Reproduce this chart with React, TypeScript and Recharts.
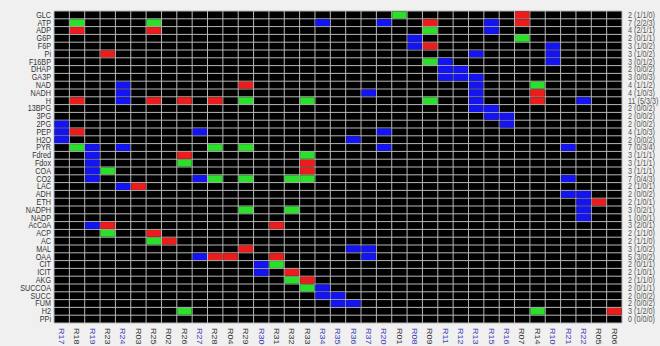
import { ScatterChart, Scatter, XAxis, YAxis, CartesianGrid, ReferenceLine } from "recharts";

const metabolites = [
  "GLC", "ATP", "ADP", "G6P", "F6P", "Pi", "F16BP", "DHAP", "GA3P", "NAD",
  "NADH", "H", "13BPG", "3PG", "2PG", "PEP", "H2O", "PYR", "Fdred", "Fdox",
  "COA", "CO2", "LAC", "ADH", "ETH", "NADPH", "NADP", "AcCoA", "ACP", "AC",
  "MAL", "OAA", "CIT", "ICIT", "AKG", "SUCCOA", "SUCC", "FUM", "H2", "PPi",
];

const reactions = [
  "R17", "R18", "R19", "R23", "R24", "R03", "R25", "R02", "R26", "R27",
  "R28", "R04", "R29", "R30", "R31", "R32", "R33", "R34", "R35", "R36",
  "R37", "R20", "R01", "R08", "R09", "R11", "R12", "R13", "R15", "R16",
  "R07", "R14", "R10", "R21", "R22", "R05", "R06",
];

// red cells, one list per reaction (same order as reactions)
const consumed = [
  [], ["ADP", "H", "PEP"], [], ["Pi", "AcCoA"], [], ["LAC"], ["ADP", "H", "ACP"], ["AC"], ["H", "Fdred"], [],
  ["H", "OAA"], ["OAA"], ["NAD", "MAL"], [], ["AcCoA", "OAA"], ["ICIT"], ["Fdox", "COA", "AKG"], [], [], [],
  [], [], [], [], ["ATP", "F6P"], [], [], [], [], [],
  ["GLC", "ATP"], ["NADH", "H"], [], [], [], ["ETH"], ["H2"],
];

// green cells
const produced = [
  [], ["ATP", "PYR"], [], ["COA", "ACP"], [], [], ["ATP", "AC"], [], ["Fdox", "H2"], [],
  ["PYR", "CO2"], [], ["H", "PYR", "CO2", "NADPH"], [], ["CIT"], ["CO2", "NADPH", "AKG"], ["H", "Fdred", "CO2", "SUCCOA"], [], [], [],
  [], [], ["GLC"], [], ["ADP", "F16BP", "H"], [], [], [], [], [],
  ["G6P"], ["NAD", "H2"], [], [], [], [], [],
];

// blue cells
const reversible = [
  ["2PG", "PEP", "H2O"], [], ["PYR", "Fdred", "Fdox", "COA", "CO2", "AcCoA"], [], ["NAD", "NADH", "H", "PYR", "LAC"], [], [], [], [], ["PEP", "CO2", "OAA"],
  [], [], [], ["CIT", "ICIT"], [], [], [], ["ATP", "SUCCOA", "SUCC"], ["SUCC", "FUM"], ["H2O", "MAL", "FUM"],
  ["NADH", "MAL", "OAA"], ["ATP", "PEP", "PYR"], [], ["G6P", "F6P"], [], ["F16BP", "DHAP", "GA3P"], ["DHAP", "GA3P"], ["Pi", "GA3P", "NAD", "NADH", "H", "13BPG"], ["ATP", "ADP", "13BPG", "3PG"], ["3PG", "2PG"],
  [], [], ["F6P", "Pi", "F16BP"], ["PYR", "CO2", "ADH"], ["H", "ADH", "ETH", "NADPH", "NADP"], [], [],
];

const COLORS = { red: "#ec1c1c", green: "#2be02b", blue: "#1414f2" };

const WIDTH = 660;
const HEIGHT = 346;
const LEFT_W = 54;
const RIGHT_W = 38;
const TOP = 11;
const BOTTOM_H = 23;
const CELL_W = (WIDTH - LEFT_W - RIGHT_W) / reactions.length;
const CELL_H = (HEIGHT - TOP - BOTTOM_H) / metabolites.length;
const FONT = "'Liberation Sans', Arial, sans-serif";
const GRID = "#b8b8b8";

type Cell = { x: number; y: number; color: string };

const cells: Cell[] = [];
reactions.forEach((_, c) => {
  const add = (names: string[], color: string) =>
    names.forEach((m) => cells.push({ x: c + 0.5, y: metabolites.indexOf(m) + 0.5, color }));
  add(consumed[c], COLORS.red);
  add(produced[c], COLORS.green);
  add(reversible[c], COLORS.blue);
});

// per-metabolite totals: n (red/green/blue)
const rowSummary = metabolites.map((m) => {
  const r = consumed.filter((l) => l.includes(m)).length;
  const g = produced.filter((l) => l.includes(m)).length;
  const b = reversible.filter((l) => l.includes(m)).length;
  return `${r + g + b} (${r}/${g}/${b})`;
});

const rowTicks = metabolites.map((_, i) => i + 0.5);
const colTicks = reactions.map((_, i) => i + 0.5);

const CellShape = (props: any) => {
  const { cx, cy, payload } = props;
  return (
    <rect
      x={cx - CELL_W / 2 + 0.5}
      y={cy - CELL_H / 2 + 0.5}
      width={CELL_W - 1}
      height={CELL_H - 1}
      fill={payload.color}
    />
  );
};

const NoShape = () => <g />;

const MetaboliteTick = (props: any) => {
  const { x, y, payload } = props;
  return (
    <g transform={`translate(${x},${y}) scale(0.88,1)`}>
      <text textAnchor="end" dy="0.35em" fontSize={8.2} fill="#333" fontFamily={FONT}>
        {metabolites[Math.floor(payload.value)]}
      </text>
    </g>
  );
};

const SummaryTick = (props: any) => {
  const { x, y, payload } = props;
  return (
    <g transform={`translate(${x},${y}) scale(0.88,1)`}>
      <text textAnchor="start" dy="0.35em" fontSize={8.2} fill="#555" fontFamily={FONT}>
        {rowSummary[Math.floor(payload.value)]}
      </text>
    </g>
  );
};

const ReactionTick = (props: any) => {
  const { x, y, payload } = props;
  const i = Math.floor(payload.value);
  const color = reversible[i].length > 0 ? "#3a3ab8" : "#333";
  return (
    <g transform={`translate(${x},${y}) scale(0.86,1) rotate(90)`}>
      <text textAnchor="start" dy="0.35em" fontSize={9} fill={color} fontFamily={FONT}>
        {reactions[i]}
      </text>
    </g>
  );
};

export default function App() {
  return (
    <div style={{ position: "absolute", left: 0, top: 0, width: WIDTH, height: HEIGHT, background: "#f0f0f0" }}>
      <ScatterChart width={WIDTH} height={HEIGHT} margin={{ top: TOP, right: 0, bottom: 0, left: 0 }}>
        <CartesianGrid fill="#000" horizontal={false} vertical={false} yAxisId="left" />
        <XAxis
          type="number"
          dataKey="x"
          domain={[0, reactions.length]}
          ticks={colTicks}
          interval={0}
          height={BOTTOM_H}
          tickSize={0}
          tickMargin={5}
          tickLine={false}
          axisLine={false}
          tick={<ReactionTick />}
        />
        <YAxis
          yAxisId="left"
          type="number"
          dataKey="y"
          domain={[0, metabolites.length]}
          reversed
          ticks={rowTicks}
          interval={0}
          width={LEFT_W}
          tickSize={0}
          tickMargin={3}
          tickLine={false}
          axisLine={false}
          tick={<MetaboliteTick />}
        />
        <YAxis
          yAxisId="right"
          orientation="right"
          type="number"
          dataKey="y"
          domain={[0, metabolites.length]}
          reversed
          ticks={rowTicks}
          interval={0}
          width={RIGHT_W}
          tickSize={0}
          tickMargin={6}
          tickLine={false}
          axisLine={false}
          tick={<SummaryTick />}
        />
        {metabolites.map((_, i) => (
          <ReferenceLine key={`h${i}`} yAxisId="left" y={i} stroke={GRID} strokeWidth={1} />
        ))}
        <ReferenceLine yAxisId="left" y={metabolites.length} stroke={GRID} strokeWidth={1} />
        {reactions.map((_, i) => (
          <ReferenceLine key={`v${i}`} yAxisId="left" x={i} stroke={GRID} strokeWidth={1} />
        ))}
        <ReferenceLine yAxisId="left" x={reactions.length} stroke={GRID} strokeWidth={1} />
        <Scatter yAxisId="left" data={cells} shape={<CellShape />} isAnimationActive={false} />
        <Scatter yAxisId="right" data={cells} shape={<NoShape />} isAnimationActive={false} />
      </ScatterChart>
    </div>
  );
}
